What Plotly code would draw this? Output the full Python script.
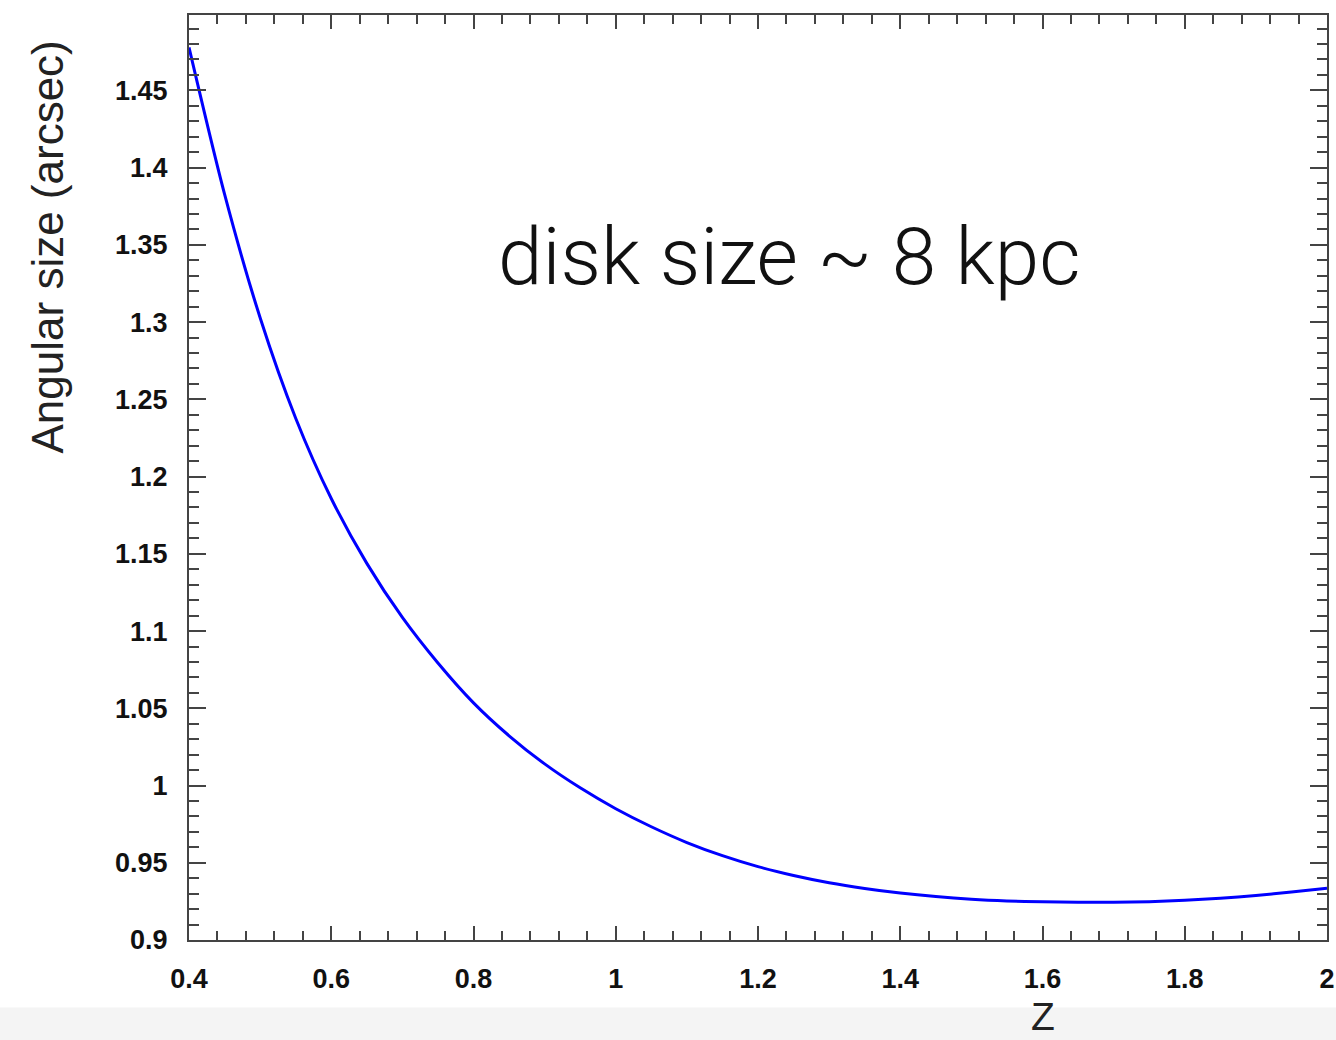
import plotly.graph_objects as go

# Angular size of an 8 kpc disk as a function of redshift
redshift = [0.40, 0.45, 0.50, 0.55, 0.60, 0.65, 0.70, 0.75, 0.80, 0.85,
            0.90, 0.95, 1.00, 1.05, 1.10, 1.15, 1.20, 1.25, 1.30, 1.35,
            1.40, 1.45, 1.50, 1.55, 1.60, 1.65, 1.70, 1.75, 1.80, 1.85,
            1.90, 1.95, 2.00]
angular_size = [1.4778, 1.3828, 1.3028, 1.2378, 1.1858, 1.1438, 1.1088, 1.0793, 1.0535, 1.0322,
                1.0140, 0.9985, 0.9850, 0.9733, 0.9631, 0.9546, 0.9475, 0.9418, 0.9371, 0.9334,
                0.9304, 0.9281, 0.9264, 0.9253, 0.9247, 0.9244, 0.9244, 0.9248, 0.9257, 0.9270,
                0.9288, 0.9310, 0.9335]

x_tick_vals = [0.4, 0.6, 0.8, 1.0, 1.2, 1.4, 1.6, 1.8, 2.0]
x_tick_text = ["0.4", "0.6", "0.8", "1", "1.2", "1.4", "1.6", "1.8", "2"]
y_tick_vals = [0.9, 0.95, 1.0, 1.05, 1.1, 1.15, 1.2, 1.25, 1.3, 1.35, 1.4, 1.45]
y_tick_text = ["0.9", "0.95", "1", "1.05", "1.1", "1.15", "1.2", "1.25", "1.3", "1.35", "1.4", "1.45"]

axis_color = "#444444"
tick_font = dict(family="Liberation Sans, Arial, sans-serif", size=27, color="#111111", weight="bold")

fig = go.Figure()
fig.add_trace(go.Scatter(
    x=redshift, y=angular_size, mode="lines",
    line=dict(color="#0000ff", width=3, shape="spline", smoothing=0.8),
    hoverinfo="x+y", showlegend=False,
))

fig.update_layout(
    width=1336, height=1040,
    margin=dict(l=189, r=9, t=15, b=100, autoexpand=False),
    paper_bgcolor="white", plot_bgcolor="white",
    xaxis=dict(
        range=[0.4, 2.0], tickmode="array", tickvals=x_tick_vals, ticktext=x_tick_text,
        ticks="inside", ticklen=14, tickwidth=1.6, tickcolor=axis_color,
        minor=dict(tickmode="linear", tick0=0.4, dtick=0.04, ticks="inside",
                   ticklen=9, tickwidth=1.6, tickcolor=axis_color),
        showline=True, linecolor=axis_color, linewidth=2, mirror="allticks",
        showgrid=False, zeroline=False, tickfont=tick_font, ticklabelstandoff=14,
        automargin=False,
    ),
    yaxis=dict(
        range=[0.9, 1.4988], tickmode="array", tickvals=y_tick_vals, ticktext=y_tick_text,
        ticks="inside", ticklen=17, tickwidth=1.6, tickcolor=axis_color,
        minor=dict(tickmode="linear", tick0=0.9, dtick=0.01, ticks="inside",
                   ticklen=10, tickwidth=1.6, tickcolor=axis_color),
        showline=True, linecolor=axis_color, linewidth=2, mirror="allticks",
        showgrid=False, zeroline=False, tickfont=tick_font, ticklabelstandoff=14,
        automargin=False,
    ),
    shapes=[dict(
        type="rect", xref="paper", yref="paper",
        x0=-0.2, x1=1.01, y0=-0.1085, y1=-0.073,
        fillcolor="#f4f4f4", line=dict(width=0), layer="below",
    )],
    annotations=[
        dict(text="Angular size (arcsec)", xref="paper", yref="paper",
             x=-0.1245, y=0.749, textangle=-90, showarrow=False,
             xanchor="center", yanchor="middle",
             font=dict(family="Liberation Sans, Arial, sans-serif", size=44, color="#222222")),
        dict(text="Z", xref="paper", yref="paper",
             x=0.7505, y=-0.0822, showarrow=False, xanchor="center", yanchor="middle",
             font=dict(family="Liberation Sans, Arial, sans-serif", size=39, color="#222222")),
        dict(text="disk size ~ 8 kpc", xref="paper", yref="paper",
             x=0.527, y=0.738, showarrow=False, xanchor="center", yanchor="middle",
             font=dict(family="Roboto, Lato, sans-serif", size=80, color="#111111", weight=300)),
    ],
)

fig.write_html("out.html")
